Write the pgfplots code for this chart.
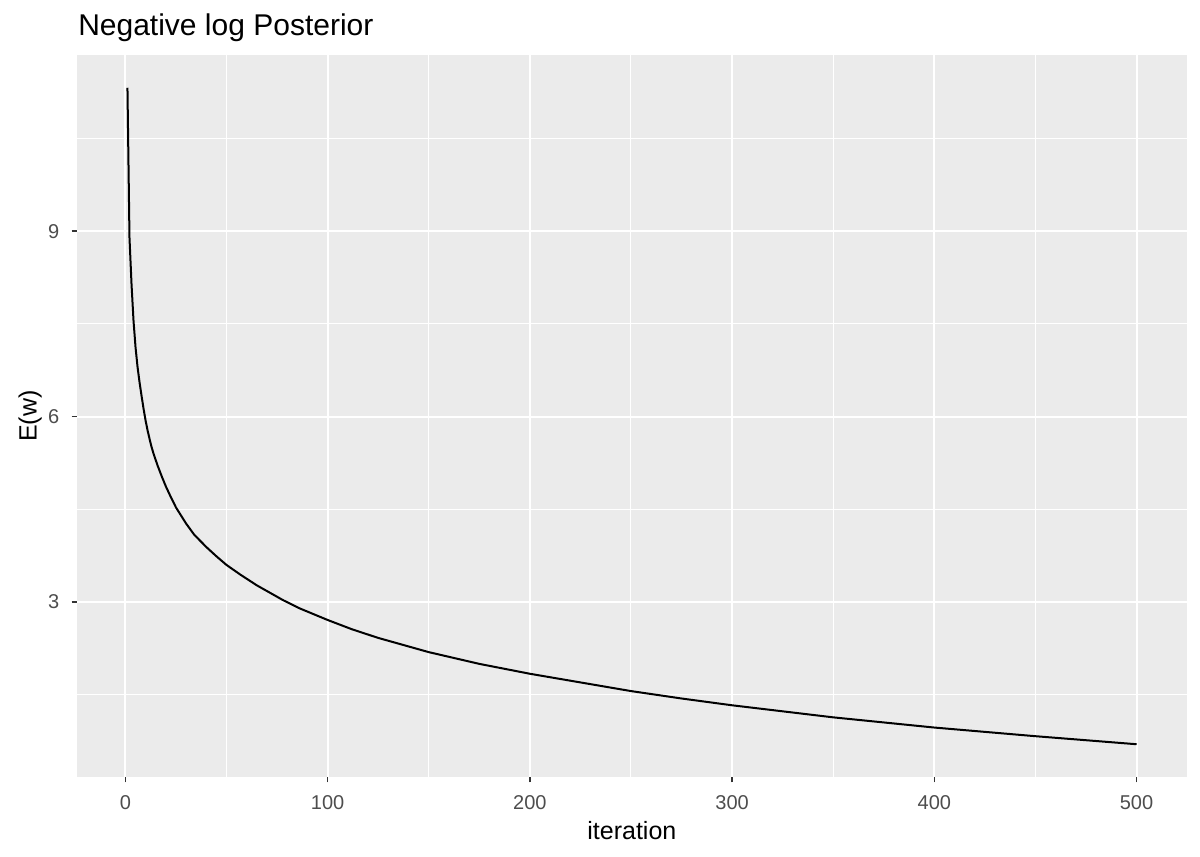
\documentclass[border=0pt]{standalone}
\usepackage{pgfplots}
\pgfplotsset{compat=1.18}
\usepackage{fontspec}
\setmainfont{Liberation Sans}
\definecolor{panel}{RGB}{235,235,235}
\definecolor{ticklab}{RGB}{77,77,77}
\definecolor{tickcol}{RGB}{51,51,51}
\begin{document}
\begin{tikzpicture}
\useasboundingbox (0,0) rectangle (900pt,642.75pt);
\begin{axis}[
  at={(57.75pt,60pt)}, anchor=south west,
  scale only axis, width=832.5pt, height=541.5pt,
  xmin=-23.95, xmax=524.95, ymin=0.17, ymax=11.85,
  axis background/.style={fill=panel},
  axis line style={draw=none},
  xtick={0,100,200,300,400,500},
  ytick={3,6,9},
  minor xtick={50,150,250,350,450},
  minor ytick={1.5,4.5,7.5,10.5},
  xtick pos=bottom, ytick pos=left,
  tick align=outside,
  major tick length=4.1pt, minor tick length=0pt,
  major tick style={draw=tickcol, line width=1.1pt},
  grid=both,
  major grid style={white, line width=1.5pt},
  minor grid style={white, line width=0.75pt},
  /pgf/number format/assume math mode=true,
  ticklabel style={font=\fontsize{15}{18}\selectfont, text=ticklab},
  xticklabel style={anchor=north, inner sep=0pt, yshift=-9.5pt},
  yticklabel style={anchor=east, inner sep=0pt, xshift=-9pt},
]
\addplot[black, line width=1.5pt, line join=round] coordinates {
(1,11.32) (2,8.9) (3,8.15) (4,7.55) (5,7.12) (6,6.8) (7,6.55) (8,6.33) (9,6.12)
(10,5.93) (11,5.77) (12,5.63) (13,5.50) (14,5.39) (16,5.20) (18,5.03) (20,4.87) (22,4.73) (25,4.53)
(30,4.27) (34,4.09) (40,3.89) (45,3.74) (50,3.60) (57,3.44) (65,3.27) (78,3.03)
(86,2.90) (100,2.71) (112,2.56) (125,2.42) (150,2.19) (175,2.00) (200,1.84)
(225,1.70) (250,1.56) (275,1.44) (300,1.33) (350,1.135) (400,0.97) (450,0.83) (500,0.70)
};
\end{axis}
\node[anchor=base west, inner sep=0pt, font=\fontsize{22.5}{27}\selectfont] at (58.5pt,615.75pt) {Negative log Posterior};
\node[anchor=base, inner sep=0pt, font=\fontsize{18.75}{22}\selectfont] at (473.9pt,13.3pt) {iteration};
\node[anchor=base, rotate=90, inner sep=0pt, font=\fontsize{18.75}{22}\selectfont] at (27.4pt,330.75pt) {E(w)};
\end{tikzpicture}
\end{document}
